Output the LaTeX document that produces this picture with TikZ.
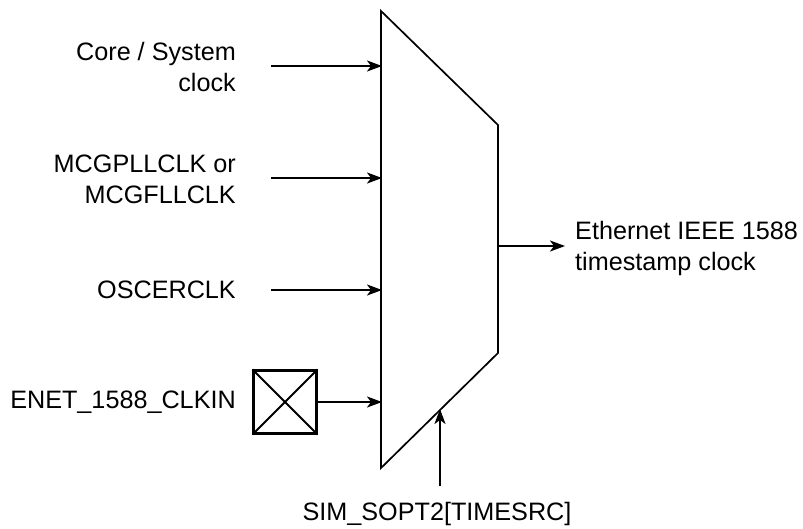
\documentclass[tikz,border=0pt]{standalone}
\usepackage{fontspec}
\setmainfont{Liberation Sans}
\usetikzlibrary{arrows.meta, positioning, calc}
\tikzset{
    lbl/.style={font=\fontsize{25.2}{31}\selectfont, inner sep=0pt, align=right},
    wire/.style={line width=1.7pt},
    padline/.style={line width=2.1pt},
    sig/.style={wire, -{Stealth[length=15pt, width=11pt, inset=4pt]}, shorten >=-1pt},
}
\begin{document}
\begin{tikzpicture}[x=1pt, y=-1pt]
    \useasboundingbox (0, 0) rectangle (803, 528);
    \coordinate (m1) at (381, 11);
    \coordinate (m2) at (498, 125);
    \coordinate (m3) at (498, 353);
    \coordinate (m4) at (381, 468);
    \draw[wire] (m1) -- (m2) -- (m3) -- (m4) -- cycle;

    \node[draw, padline, minimum size=63pt, inner sep=0pt] (pad) at (285, 402) {};
    \draw[padline] (pad.north west) -- (pad.south east);
    \draw[padline] (pad.north east) -- (pad.south west);

    \coordinate (i1) at (381, 66);
    \coordinate (i2) at (381, 178);
    \coordinate (i3) at (381, 290);
    \coordinate (i4) at (381, 402);
    \coordinate (o1) at (498, 246);
    \coordinate (s1) at (440, 410);

    \node[lbl, anchor=east] (core) at (236, 67) {Core / System\\clock};
    \node[lbl, anchor=east] (mcg) at (236, 179) {MCGPLLCLK or\\MCGFLLCLK};
    \node[lbl, anchor=east] (osc) at (236, 290) {OSCERCLK};
    \node[lbl, anchor=east] (enet) at (236, 402) {ENET\_1588\_CLKIN};

    \coordinate (c1) at (271, 66);
    \coordinate (c2) at (271, 178);
    \coordinate (c3) at (271, 290);
    \draw[sig] (c1) -- (i1);
    \draw[sig] (c2) -- (i2);
    \draw[sig] (c3) -- (i3);
    \draw[sig] (pad.east |- i4) -- (i4);

    \coordinate (c4) at (564, 246);
    \draw[sig] (o1) -- (c4);
    \node[lbl, anchor=west, align=left] (out) at (575, 248) {Ethernet IEEE 1588\\timestamp clock};

    \node[lbl] (sim) at (437, 514) {SIM\_SOPT2[TIMESRC]};
    \coordinate (c5) at (440, 486);
    \draw[sig] (c5) -- (s1);
\end{tikzpicture}
\end{document}
